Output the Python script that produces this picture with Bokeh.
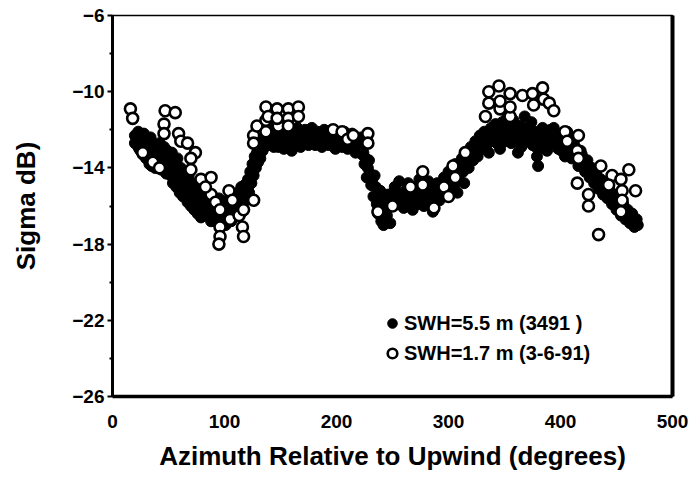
from bokeh.plotting import figure
from bokeh.models import (Range1d, FixedTicker, LinearAxis, Legend,
                          LegendItem, ColumnDataSource)
from bokeh.embed import file_html
from bokeh.resources import INLINE

# ---- data ----
# SWH = 5.5 m (filled circles): outer points of the band
filled_azimuth_a = [
    20, 22, 23, 24, 25, 26, 27, 28, 29, 30,
    31, 32, 33, 34, 35, 36, 37, 38, 39, 40, 41, 42, 43, 44, 45, 46, 47, 48, 49, 50,
    51, 52, 53, 54, 55, 56, 57, 58, 59, 60, 61, 62, 63, 64, 65, 66, 67, 68, 69, 70,
    71, 72, 73, 74, 75, 76, 77, 78, 79, 80, 81, 82, 83, 84, 85, 86, 87, 88, 89, 90,
    91, 92, 93, 94, 95, 96, 98, 99, 100, 101, 102, 103, 104, 105, 106, 107, 108, 110,
    111, 112, 113, 114, 115, 116, 117, 118, 119, 120,
    121, 122, 123, 124, 125, 126, 127, 128, 129, 130, 131, 132, 133, 134, 135, 136,
    138, 139, 140, 141, 143, 144, 145,
    147, 148, 150, 151, 153, 154, 156, 157, 159, 160, 162, 163, 165, 166, 168, 169,
    171, 172, 174, 175, 177, 178, 180, 181, 183, 184, 186, 187, 189, 190, 192, 193,
    195, 196, 198, 199, 201, 202, 204, 205, 207, 208, 210, 211, 213, 214, 216, 217,
    219, 220, 222, 223,
    225, 227, 229, 231, 233, 234, 236, 237, 239, 240, 242, 243, 245, 246, 248, 249, 251,
    252, 254, 256, 258, 260, 262, 264, 266, 268, 270, 272, 274, 276, 278, 280, 282,
    284, 286, 288, 290, 292, 294, 296, 298,
    300, 302, 304, 306, 308, 310, 312, 314, 316, 318, 320, 322, 324, 326, 328, 330,
    332, 334, 336, 338, 340, 342, 344, 346, 348, 350, 352, 354, 356, 358, 360,
    362, 364, 366, 368, 370, 372, 374, 376, 378, 380, 382, 384, 386, 388, 390, 392, 394,
    396, 398, 400, 402, 404, 406, 408, 410, 412, 414, 416, 418, 420,
    422, 424, 426, 428, 430, 432, 434, 436, 438, 440, 442, 444, 446, 448, 450, 452,
    454, 456, 458, 460, 462, 464, 466, 468,
]
filled_sigma_a = [
    -12.3, -12.6, -12.1, -13.0, -12.4, -12.8, -13.3, -12.2, -12.9, -13.5,
    -12.6, -13.1, -13.8, -12.4, -13.3, -12.8, -13.6, -14.0, -12.9, -13.4,
    -13.9, -12.7, -13.2, -14.1, -13.6, -12.9, -13.5, -14.3, -13.1, -13.8,
    -13.9, -14.4, -13.2, -14.8, -13.7, -14.2, -15.0, -13.5, -14.6, -15.3,
    -14.0, -14.9, -15.5, -14.3, -15.1, -14.6, -15.8, -14.4, -15.4, -16.0,
    -14.8, -15.5, -16.2, -14.9, -15.7, -16.4, -15.2, -16.0, -16.6, -15.4,
    -16.1, -15.0, -15.8, -16.5, -15.3, -16.3, -15.6, -16.8, -15.9, -16.4,
    -15.8, -16.6, -16.0, -16.9, -15.6, -16.3, -16.7, -15.9, -16.5, -17.0,
    -16.1, -15.7, -16.4, -15.9, -16.8, -15.5, -16.2, -15.8,
    -16.5, -15.3, -16.0, -15.6, -15.0, -16.3, -15.4, -14.9, -15.7, -15.2,
    -14.6, -15.3, -14.2, -14.8, -13.8, -14.4, -13.4, -14.0, -13.2, -13.7,
    -12.9, -13.5, -12.6, -13.1, -12.4, -12.9,
    -12.2, -12.8, -12.0, -12.6, -12.3, -12.9, -11.9,
    -12.4, -12.9, -12.1, -12.7, -13.0, -12.3, -12.0, -12.8, -12.5, -13.1,
    -12.2, -12.7, -11.9, -12.4, -12.9, -12.1,
    -12.6, -12.0, -12.4, -12.8, -12.2, -11.9, -12.5, -12.8, -12.1, -12.6,
    -12.3, -12.9, -12.0, -12.5, -12.2, -12.8,
    -12.4, -12.0, -12.6, -13.0, -12.2, -12.7, -12.4, -12.9, -12.1, -12.6,
    -13.0, -12.3, -12.8, -12.2, -12.7, -13.2,
    -12.5, -13.0, -12.4, -13.3,
    -13.8, -14.5, -13.6, -14.9, -15.5, -14.4, -15.9, -16.4, -15.2, -16.8,
    -17.0, -15.8, -16.5, -15.4, -16.9, -16.0, -15.3,
    -15.0, -15.8, -14.7, -15.5, -16.1, -15.2, -14.8, -15.6, -16.2, -15.0,
    -15.7, -14.6, -15.3, -16.0, -15.1, -14.7,
    -15.6, -16.3, -15.2, -14.8, -15.7, -15.1, -14.5, -15.4,
    -14.2, -15.0, -14.6, -13.8, -15.3, -14.3, -13.5, -14.8, -13.2, -14.0,
    -12.9, -13.6, -12.6, -13.4, -12.3, -13.0,
    -12.1, -12.8, -13.2, -11.9, -12.5, -11.7, -12.3, -13.0, -11.6, -12.2,
    -11.4, -12.0, -12.7, -11.5, -12.1,
    -13.2, -11.8, -12.4, -11.3, -12.0, -12.6, -11.6, -12.3, -12.9, -13.9,
    -12.4, -11.9, -12.6, -13.1, -12.2, -12.7, -11.9,
    -12.5, -13.0, -12.3, -12.8, -13.4, -12.1, -12.9, -13.5, -12.6, -13.3,
    -13.9, -13.1, -13.7,
    -14.2, -13.6, -14.5, -14.0, -14.8, -14.3, -15.1, -14.6, -15.4, -14.9,
    -15.6, -15.2, -15.9, -15.4, -16.2, -15.7,
    -16.5, -15.9, -16.7, -16.2, -16.9, -16.4, -17.1, -16.7,
]
# SWH = 5.5 m (filled circles): points in the middle of the band
filled_azimuth_b = [
    20, 21, 23, 25, 27, 29, 31, 33, 35, 37, 39, 41, 43, 45, 47, 49,
    51, 53, 55, 57, 59, 61, 63, 65, 67, 69,
    71, 73, 75, 77, 79, 81, 83, 85, 87, 89,
    91, 93, 95, 97, 99, 101, 103, 105, 107, 109, 111, 113, 115, 117, 119,
    121, 123, 125, 127, 129, 131, 133, 135, 137, 139, 142, 144,
    146, 149, 152, 155, 158, 161, 164, 167, 170, 173, 176, 179, 182, 185, 188, 191,
    194, 197, 200, 203, 206, 209, 212, 215, 218, 221, 224,
    226, 228, 230, 232, 235, 238, 241, 244, 247, 250,
    253, 255, 257, 259, 261, 263, 265, 267, 269, 271, 273, 275, 277, 279, 281, 283,
    285, 287, 289, 291, 293, 295, 297, 299,
    301, 303, 305, 307, 309, 311, 313, 315, 317, 319, 321, 323, 325, 327, 329,
    331, 333, 335, 337, 339, 341, 343, 345, 347, 349, 351, 353, 355, 357, 359,
    361, 363, 365, 367, 369, 371, 373, 375, 377, 379, 381, 383, 385, 387, 389, 391,
    393, 395,
    397, 399, 401, 403, 405, 407, 409, 411, 413, 415, 417, 419, 421,
    423, 425, 427, 429, 431, 433, 435, 437, 439, 441, 443, 445, 447, 449, 451, 453,
    455, 457, 459, 461, 463, 465, 467, 469,
]
filled_sigma_b = [
    -12.7, -12.4, -12.9, -13.1, -12.6, -13.2, -13.4, -12.9, -13.9, -13.0, -13.7,
    -13.2, -13.8, -13.0, -14.0, -13.6,
    -14.2, -13.8, -14.5, -14.1, -14.9, -14.5, -14.8, -14.4, -15.2, -14.9,
    -15.3, -15.6, -15.2, -15.9, -15.5, -15.7, -16.2, -15.9, -16.1, -16.3,
    -16.2, -16.5, -16.1, -16.4, -16.2, -16.6, -16.3, -16.3, -16.1, -16.2, -15.9,
    -15.7, -15.8, -15.6, -15.3,
    -15.0, -14.6, -14.3, -13.8, -13.6, -13.3, -13.0, -12.7, -12.5, -12.4, -12.2, -12.4,
    -12.2, -12.5, -12.4, -12.6, -12.3, -12.6, -12.3, -12.5, -12.3, -12.6, -12.4,
    -12.2, -12.4, -12.6, -12.4, -12.5,
    -12.6, -12.3, -12.5, -12.6, -12.4, -12.7, -12.5, -12.9, -12.6, -12.8, -13.2,
    -13.5, -14.0, -14.3, -14.6, -15.0, -15.6, -16.0, -16.2, -16.0, -15.7,
    -15.4, -15.3, -15.8, -15.5, -15.7, -15.4, -15.9, -15.2, -15.6, -15.4, -15.9,
    -15.5, -15.7, -15.4, -15.8, -15.3,
    -15.2, -15.7, -15.5, -15.3, -15.4, -15.0, -14.9, -14.8,
    -14.6, -14.4, -14.9, -14.1, -14.6, -13.9, -14.2, -13.7, -13.6, -13.4, -13.3,
    -13.1, -12.9, -12.8, -12.6,
    -12.5, -12.4, -12.5, -12.6, -12.2, -12.1, -12.7, -12.0, -12.4, -11.9, -12.6,
    -11.8, -12.3, -12.1, -11.8,
    -12.5, -12.4, -12.9, -11.9, -12.5, -12.2, -12.0, -12.8, -12.1, -13.4, -13.0,
    -12.2, -12.4, -12.9, -12.5, -12.0,
    -12.4, -12.2,
    -12.8, -12.6, -13.1, -12.5, -12.7, -13.2, -12.4, -13.1, -12.9, -13.6, -13.4,
    -13.3, -13.9,
    -13.9, -14.2, -14.3, -14.5, -14.6, -14.8, -14.9, -15.0, -15.2, -15.3, -15.5,
    -15.6, -15.7, -15.8, -16.0, -16.1,
    -16.2, -16.3, -16.5, -16.6, -16.6, -16.8, -16.9, -17.0,
]

# SWH = 1.7 m (open circles)
open_azimuth = [
    16, 18, 27, 36, 42, 47, 56, 46, 46, 59, 61, 67, 74, 70, 70, 79, 88, 88, 83, 92,
    96, 105, 96, 96, 95, 104, 107, 113, 116, 117, 117, 126, 126, 126, 129,
    137, 137, 137, 139, 147, 148, 157, 157, 157, 166, 147, 166,
    197, 205, 210, 215, 228, 228,
    237, 250, 266, 277, 277, 287, 296, 300,
    304, 306, 315, 333, 346, 355, 336, 345, 346, 355, 355, 366, 375, 376, 384, 385,
    336, 390, 394,
    404, 406, 416, 415, 416, 415, 425, 425, 436, 446, 454, 461, 467, 455, 455, 454,
    443, 434,
]
open_sigma = [
    -10.9, -11.4, -13.2, -13.7, -14.0, -11.0, -11.1, -11.7, -12.2, -12.2, -12.6,
    -12.7, -13.2, -13.5, -14.1, -14.6, -14.5, -15.4, -15.0, -15.8,
    -16.2, -16.7, -17.1, -17.6, -18.0, -15.2, -15.7, -16.5, -17.1, -17.6, -16.2,
    -15.7, -12.3, -12.7, -11.8,
    -10.8, -11.5, -12.1, -11.3, -10.9, -11.8, -10.9, -11.4, -11.8, -10.8, -11.4, -11.3,
    -12.0, -12.1, -12.5, -12.3, -12.2, -12.7,
    -16.3, -16.0, -15.0, -14.2, -14.9, -16.1, -15.0, -15.5,
    -13.9, -14.5, -13.2, -11.3, -10.9, -11.3, -10.0, -9.7, -10.5, -10.1, -10.8,
    -10.2, -10.1, -10.7, -9.8, -10.4,
    -10.6, -10.6, -11.0,
    -12.1, -12.6, -12.3, -13.1, -13.5, -14.8, -15.4, -16.0, -13.9, -14.4, -14.6,
    -14.1, -15.2, -15.2, -15.7, -16.3,
    -14.9, -17.5,
]

x_ticks = [0, 100, 200, 300, 400, 500]
y_ticks = [-26, -22, -18, -14, -10, -6]
y_minor = [-24, -20, -16, -12, -8]
legend_labels = ["SWH=5.5 m (3491 )", "SWH=1.7 m (3-6-91)"]
x_title = "Azimuth Relative to Upwind (degrees)"
y_title = "Sigma dB)"

SANS = "Liberation Sans"

p = figure(width=691, height=484, x_range=Range1d(0, 500), y_range=Range1d(-26, -6),
           output_backend="svg", toolbar_location=None, title=None,
           min_border_left=112, min_border_right=19, min_border_top=15,
           min_border_bottom=88)
p.xgrid.visible = False
p.ygrid.visible = False
p.background_fill_color = "white"
p.border_fill_color = "white"
p.outline_line_color = "black"
p.outline_line_width = 1.5

# x axis
xa = p.xaxis[0]
xa.ticker = FixedTicker(ticks=x_ticks)
xa.axis_line_width = 3.5
xa.major_tick_in = 0
xa.major_tick_out = 0
xa.minor_tick_line_color = None
xa.major_label_standoff = 18
xa.major_label_text_font = SANS
xa.major_label_text_font_style = "bold"
xa.major_label_text_font_size = "19px"
xa.major_label_text_color = "black"
xa.axis_label = x_title
xa.axis_label_text_font = SANS
xa.axis_label_text_font_style = "bold"
xa.axis_label_text_font_size = "26px"
xa.axis_label_text_color = "black"
xa.axis_label_standoff = 10

# y axis
ya = p.yaxis[0]
ya.ticker = FixedTicker(ticks=y_ticks, minor_ticks=y_minor)
ya.axis_line_width = 3
ya.major_tick_in = 0
ya.major_tick_out = 5
ya.major_tick_line_width = 2
ya.minor_tick_in = 0
ya.minor_tick_out = 3
ya.minor_tick_line_width = 2
ya.major_label_standoff = 3
ya.major_label_text_font = SANS
ya.major_label_text_font_style = "bold"
ya.major_label_text_font_size = "19px"
ya.major_label_text_color = "black"
ya.axis_label = y_title
ya.axis_label_text_font = SANS
ya.axis_label_text_font_style = "bold"
ya.axis_label_text_font_size = "26px"
ya.axis_label_text_color = "black"
ya.axis_label_standoff = 28

# right frame line
ra = LinearAxis(ticker=FixedTicker(ticks=[]), axis_line_width=4,
                major_label_text_font_size="0px", major_tick_line_color=None,
                minor_tick_line_color=None)
p.add_layout(ra, "right")

src_f = ColumnDataSource(dict(x=filled_azimuth_a + filled_azimuth_b,
                              y=filled_sigma_a + filled_sigma_b))
src_o = ColumnDataSource(dict(x=open_azimuth, y=open_sigma))
r_f = p.scatter("x", "y", source=src_f, size=11, marker="circle",
                fill_color="black", line_color="black", line_width=1)
r_o = p.scatter("x", "y", source=src_o, size=11, marker="circle",
                fill_color="white", line_color="black", line_width=2.6)

legend = Legend(items=[LegendItem(label=legend_labels[0], renderers=[r_f]),
                       LegendItem(label=legend_labels[1], renderers=[r_o])],
                location=(268, 31), orientation="vertical",
                glyph_width=24, glyph_height=24, label_standoff=0, spacing=6,
                padding=0, margin=0, border_line_color=None,
                background_fill_alpha=0,
                label_text_font=SANS, label_text_font_style="bold",
                label_text_font_size="20px", label_text_color="black")
p.add_layout(legend, "center")

open("out.html", "w").write(file_html(p, INLINE))
